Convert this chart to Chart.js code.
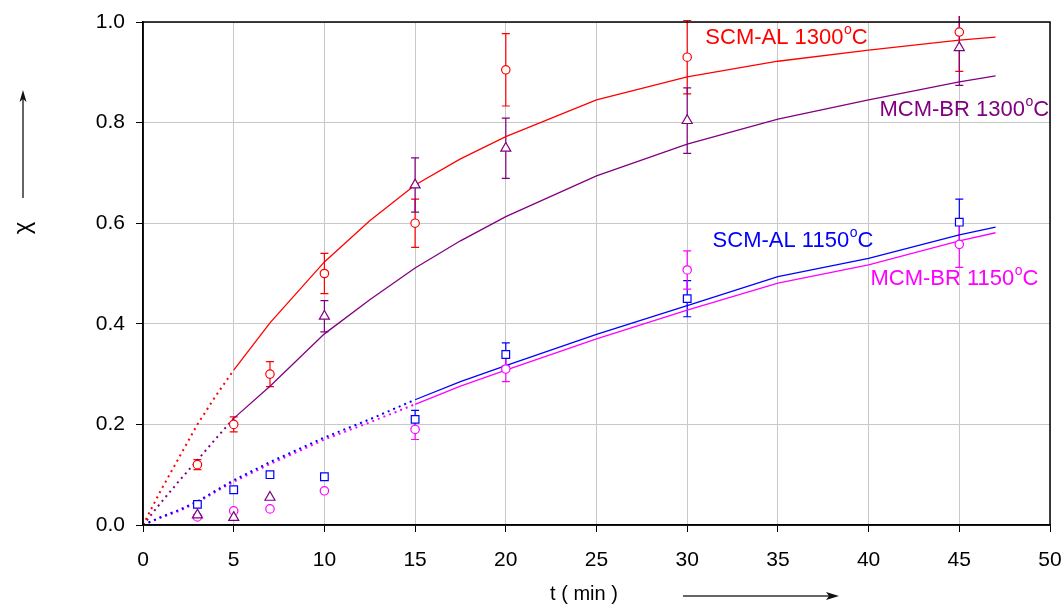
<!DOCTYPE html>
<html>
<head>
<meta charset="utf-8">
<script src="https://cdn.jsdelivr.net/npm/chart.js@4.4.1/dist/chart.umd.min.js"></script>
<style>
  html, body { margin: 0; padding: 0; background: #fff; }
  #wrap { width: 1063px; height: 604px; }
</style>
</head>
<body>
<div id="wrap"><canvas id="chart" width="1063" height="604"></canvas></div>
<script>
// ── DATA ──────────────────────────────────────────────────
const times = [3, 5, 7, 10, 15, 20, 30, 45];

const scmAl1300     = [0.12, 0.20, 0.30, 0.50, 0.60, 0.905, 0.93, 0.98];
const scmAl1300Err  = [0.01, 0.015, 0.025, 0.04, 0.048, 0.072, 0.073, 0.078];
const mcmBr1300     = [0.02, 0.015, 0.055, 0.415, 0.676, 0.749, 0.804, 0.949];
const mcmBr1300Err  = [0, 0, 0, 0.031, 0.054, 0.06, 0.065, 0.075];
const scmAl1150     = [0.041, 0.07, 0.10, 0.096, 0.21, 0.339, 0.45, 0.602];
const scmAl1150Err  = [0, 0, 0, 0, 0.018, 0.023, 0.036, 0.046];
const mcmBr1150     = [0.016, 0.028, 0.032, 0.068, 0.19, 0.31, 0.507, 0.558];
const mcmBr1150Err  = [0, 0, 0, 0, 0.02, 0.025, 0.038, 0.046];

// model curves
const modelTimes   = [0, 1, 2, 3, 4, 5, 7, 10, 12.5, 15, 17.5, 20, 25, 30, 35, 40, 45, 47];
const scmAl1300Fit = [0, 0.07, 0.135, 0.20, 0.256, 0.308, 0.402, 0.523, 0.605, 0.676, 0.728, 0.772, 0.845, 0.891, 0.922, 0.944, 0.964, 0.97];
const mcmBr1300Fit = [0, 0.045, 0.088, 0.129, 0.171, 0.212, 0.276, 0.38, 0.448, 0.511, 0.565, 0.613, 0.694, 0.757, 0.807, 0.845, 0.881, 0.893];
const scmAl1150Fit = [0, 0.016, 0.03, 0.047, 0.068, 0.089, 0.125, 0.174, 0.21, 0.249, 0.285, 0.317, 0.379, 0.436, 0.494, 0.53, 0.577, 0.592];
const mcmBr1150Fit = [0, 0.015, 0.028, 0.045, 0.066, 0.086, 0.121, 0.17, 0.204, 0.24, 0.276, 0.308, 0.37, 0.427, 0.481, 0.517, 0.565, 0.581];

const xTicks = [0, 5, 10, 15, 20, 25, 30, 35, 40, 45, 50];
const yTicks = [0, 0.2, 0.4, 0.6, 0.8, 1.0];

// ── STYLE ─────────────────────────────────────────────────
const RED = '#ff0000', PURPLE = '#800080', BLUE = '#0000ff', MAGENTA = '#ff00ff';
const FONT = '"Liberation Sans", Arial, sans-serif';

const pts = (xs, ys) => xs.map((x, i) => ({ x, y: ys[i] }));

function markerSet(label, ys, errs, color, style, radius) {
    return {
        label, data: pts(times, ys), errors: errs,
        showLine: false, pointStyle: style, pointRadius: radius,
        pointBorderColor: color, pointBackgroundColor: '#fff', pointBorderWidth: 1.2,
        borderColor: color, order: 0
    };
}

function curveSet(label, ys, color, dotEnd) {
    return {
        label, data: pts(modelTimes, ys), showLine: true,
        borderColor: color, borderWidth: 1.3, pointRadius: 0, tension: 0,
        segment: {
            borderDash: ctx => ctx.p1.parsed.x <= dotEnd ? [2, 4] : undefined,
            borderWidth: ctx => ctx.p1.parsed.x <= dotEnd ? 2 : 1.3
        },
        order: 1
    };
}

const seriesLabels = [
    { text: 'SCM-AL 1300', x: 31.0, y: 0.968, color: RED },
    { text: 'MCM-BR 1300', x: 40.6, y: 0.825, color: PURPLE },
    { text: 'SCM-AL 1150', x: 31.4, y: 0.565, color: BLUE },
    { text: 'MCM-BR 1150', x: 40.1, y: 0.489, color: MAGENTA }
];

// ── PLUGINS ───────────────────────────────────────────────
const errorBars = {
    id: 'errorBars',
    beforeDatasetsDraw(chart) {
        const { ctx, chartArea, scales: { x, y } } = chart;
        ctx.save();
        ctx.beginPath();
        ctx.rect(0, chartArea.top - 6, chart.width, chart.height);
        ctx.clip();
        chart.data.datasets.forEach(ds => {
            if (!ds.errors) return;
            ctx.strokeStyle = ds.borderColor;
            ctx.lineWidth = 1.2;
            ds.data.forEach((p, i) => {
                const e = ds.errors[i];
                if (!e) return;
                const px = x.getPixelForValue(p.x);
                const top = y.getPixelForValue(p.y + e);
                const bot = y.getPixelForValue(p.y - e);
                ctx.beginPath();
                ctx.moveTo(px, top); ctx.lineTo(px, bot);
                ctx.moveTo(px - 4, top); ctx.lineTo(px + 4, top);
                ctx.moveTo(px - 4, bot); ctx.lineTo(px + 4, bot);
                ctx.stroke();
            });
        });
        ctx.restore();
    }
};

const decorations = {
    id: 'decorations',
    afterDraw(chart) {
        const { ctx, chartArea: a, scales: { x, y } } = chart;
        ctx.save();
        // frame
        ctx.strokeStyle = '#000';
        ctx.lineWidth = 1.5;
        ctx.strokeRect(a.left, a.top, a.right - a.left, a.bottom - a.top);

        // series labels with superscript degree
        ctx.textBaseline = 'middle';
        seriesLabels.forEach(l => {
            let px = x.getPixelForValue(l.x);
            const py = y.getPixelForValue(l.y);
            ctx.fillStyle = l.color;
            ctx.font = '22px ' + FONT;
            ctx.fillText(l.text, px, py);
            px += ctx.measureText(l.text).width;
            ctx.font = '14px ' + FONT;
            ctx.fillText('o', px + 0.5, py - 8);
            px += ctx.measureText('o').width + 0.5;
            ctx.font = '22px ' + FONT;
            ctx.fillText('C', px, py);
        });

        // x axis title and arrow
        ctx.fillStyle = '#000';
        ctx.font = '20px ' + FONT;
        ctx.textAlign = 'center';
        ctx.fillText('t ( min )', 584, 594);
        ctx.strokeStyle = '#333';
        ctx.lineWidth = 1.3;
        ctx.beginPath();
        ctx.moveTo(683, 596); ctx.lineTo(834, 596);
        ctx.stroke();
        ctx.fillStyle = '#111';
        ctx.beginPath();
        ctx.moveTo(839, 596); ctx.lineTo(826, 592); ctx.lineTo(829, 596); ctx.lineTo(826, 600);
        ctx.closePath(); ctx.fill();

        // y axis title and arrow
        ctx.strokeStyle = '#111';
        ctx.beginPath();
        ctx.moveTo(23, 198); ctx.lineTo(23, 96);
        ctx.stroke();
        ctx.beginPath();
        ctx.moveTo(23, 90); ctx.lineTo(19.5, 102); ctx.lineTo(23, 99); ctx.lineTo(26.5, 102);
        ctx.closePath(); ctx.fill();
        ctx.translate(23, 228);
        ctx.rotate(-Math.PI / 2);
        ctx.fillStyle = '#000';
        ctx.font = '24px ' + FONT;
        ctx.textAlign = 'center';
        ctx.fillText('χ', 0, 0);
        ctx.restore();
    }
};

// ── CHART ─────────────────────────────────────────────────
new Chart(document.getElementById('chart').getContext('2d'), {
    type: 'scatter',
    data: {
        datasets: [
            markerSet('SCM-AL 1300°C', scmAl1300, scmAl1300Err, RED, 'circle', 4.2),
            markerSet('MCM-BR 1300°C', mcmBr1300, mcmBr1300Err, PURPLE, 'triangle', 5.8),
            markerSet('SCM-AL 1150°C', scmAl1150, scmAl1150Err, BLUE, 'rect', 5.4),
            markerSet('MCM-BR 1150°C', mcmBr1150, mcmBr1150Err, MAGENTA, 'circle', 4.2),
            curveSet('SCM-AL 1300°C model', scmAl1300Fit, RED, 5),
            curveSet('MCM-BR 1300°C model', mcmBr1300Fit, PURPLE, 5),
            curveSet('SCM-AL 1150°C model', scmAl1150Fit, BLUE, 15),
            curveSet('MCM-BR 1150°C model', mcmBr1150Fit, MAGENTA, 15)
        ]
    },
    options: {
        responsive: false,
        animation: false,
        layout: { padding: { top: 22, right: 13, left: 0, bottom: 0 } },
        plugins: { legend: { display: false }, tooltip: { enabled: false } },
        scales: {
            x: {
                type: 'linear', min: 0, max: 50,
                afterBuildTicks: s => { s.ticks = xTicks.map(v => ({ value: v })); },
                afterFit: s => { s.height = 79; s.paddingLeft = 0; s.paddingRight = 0; },
                grid: { color: '#c8c8c8', tickColor: '#000', tickLength: 7, lineWidth: 1 },
                border: { color: '#000', width: 1.5 },
                ticks: { color: '#000', font: { family: FONT, size: 21 }, padding: 16, maxRotation: 0 }
            },
            y: {
                type: 'linear', min: 0, max: 1,
                afterBuildTicks: s => { s.ticks = yTicks.map(v => ({ value: v })); },
                afterFit: s => { s.width = 143; s.paddingTop = 0; s.paddingBottom = 0; },
                grid: { color: '#c8c8c8', tickColor: '#000', tickLength: 7, lineWidth: 1 },
                border: { color: '#000', width: 1.5 },
                ticks: { color: '#000', font: { family: FONT, size: 21 }, padding: 11,
                         callback: v => v.toFixed(1) }
            }
        }
    },
    plugins: [errorBars, decorations]
});
</script>
</body>
</html>
